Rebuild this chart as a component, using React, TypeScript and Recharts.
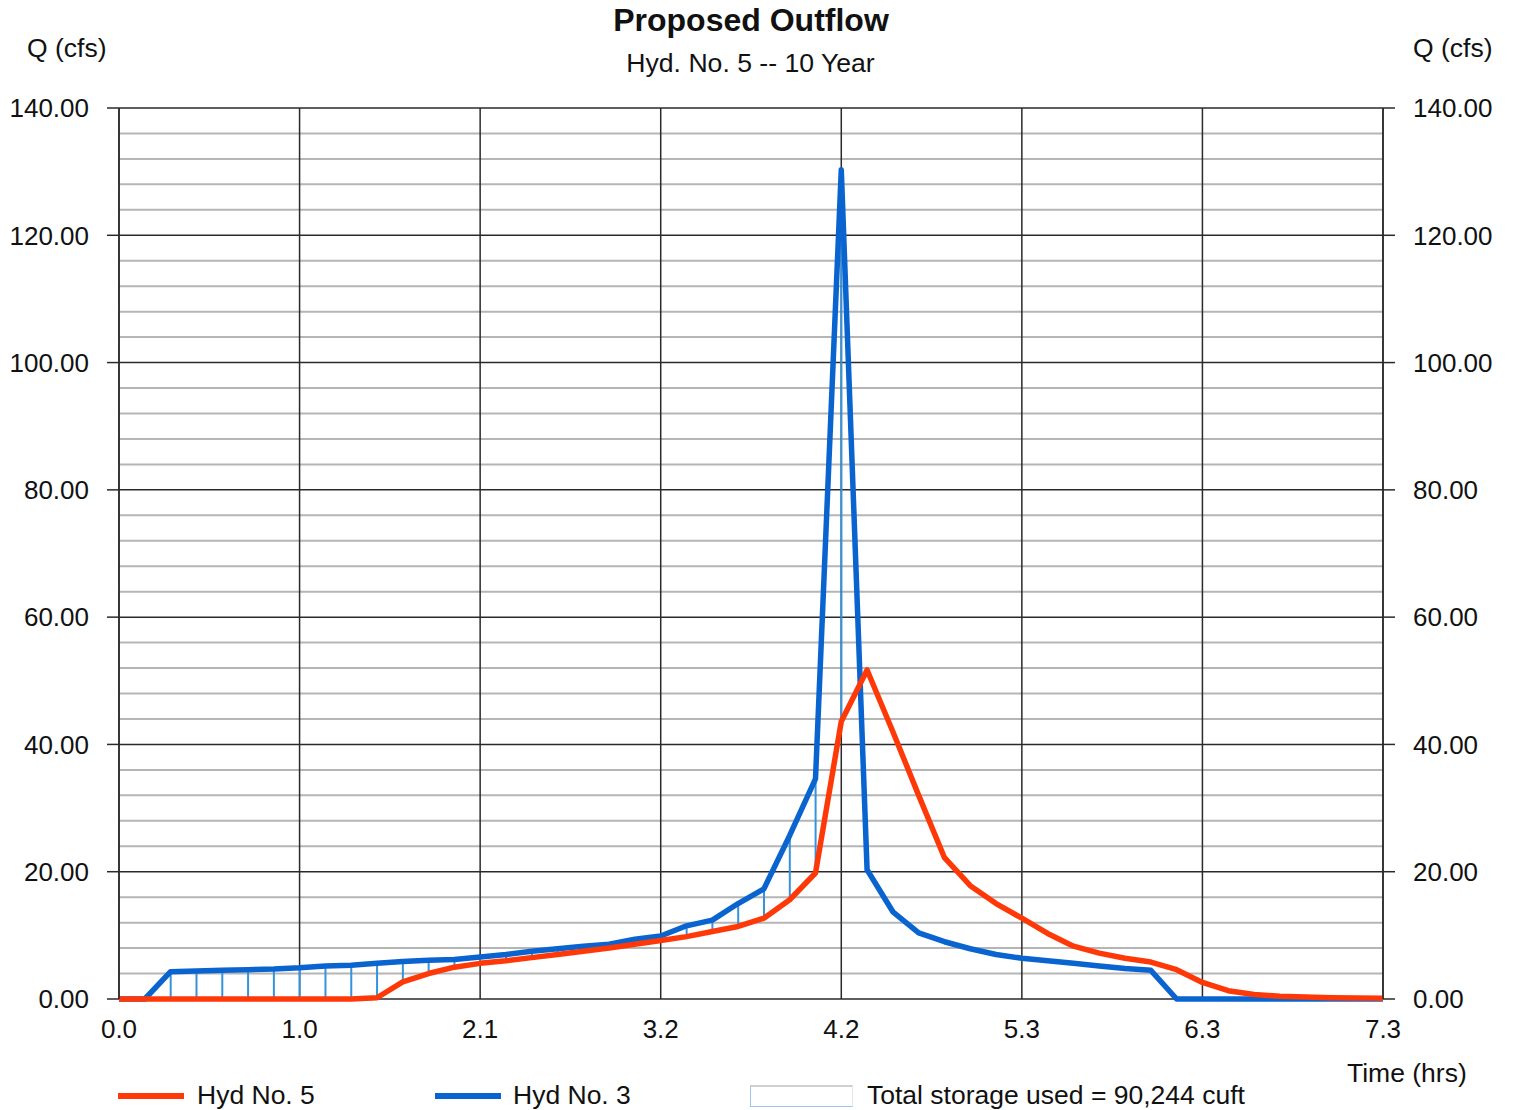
import { ComposedChart, Line, Bar, XAxis, YAxis, CartesianGrid } from "recharts";

const times = [
  0.0, 0.15, 0.3, 0.45, 0.6, 0.75, 0.9, 1.05, 1.2, 1.35,
  1.5, 1.65, 1.8, 1.95, 2.1, 2.25, 2.4, 2.55, 2.7, 2.85,
  3.0, 3.15, 3.3, 3.45, 3.6, 3.75, 3.9, 4.05, 4.2, 4.35,
  4.5, 4.65, 4.8, 4.95, 5.1, 5.25, 5.4, 5.55, 5.7, 5.85,
  6.0, 6.15, 6.3, 6.45, 6.6, 6.75, 6.9, 7.05, 7.2, 7.35,
];

// Hyd No. 3 (inflow)
const hyd3 = [
  0, 0, 4.3, 4.4, 4.5, 4.6, 4.7, 4.9, 5.2, 5.3,
  5.6, 5.9, 6.1, 6.2, 6.6, 7.0, 7.5, 7.9, 8.3, 8.6,
  9.4, 9.9, 11.5, 12.4, 15.0, 17.3, 25.7, 34.6, 130.3, 20.3,
  13.7, 10.4, 9.0, 7.9, 7.0, 6.4, 6.0, 5.6, 5.2, 4.8,
  4.5, 0, 0, 0, 0, 0, 0, 0, 0, 0,
];

// Hyd No. 5 (outflow)
const hyd5 = [
  0, 0, 0, 0, 0, 0, 0, 0, 0, 0,
  0.2, 2.7, 4.0, 5.0, 5.6, 6.0, 6.5, 7.0, 7.5, 8.0,
  8.6, 9.2, 9.8, 10.6, 11.4, 12.7, 15.6, 19.8, 43.6, 51.7,
  42.0, 32.0, 22.2, 17.8, 15.0, 12.7, 10.3, 8.3, 7.2, 6.4,
  5.8, 4.6, 2.6, 1.3, 0.7, 0.45, 0.3, 0.2, 0.15, 0.1,
];

const xTicks = [0, 1.05, 2.1, 3.15, 4.2, 5.25, 6.3, 7.35];
const xTickLabels = ["0.0", "1.0", "2.1", "3.2", "4.2", "5.3", "6.3", "7.3"];
const yTicks = [0, 20, 40, 60, 80, 100, 120, 140];
const yMinor = [4, 8, 12, 16, 24, 28, 32, 36, 44, 48, 52, 56, 64, 68, 72, 76, 84, 88, 92, 96, 104, 108, 112, 116, 124, 128, 132, 136];

const RED = "#FF3808";
const BLUE = "#0A64D0";
const HATCH = "#3592DC";
const FONT = "'Liberation Sans', Arial, sans-serif";

const data = times.map((t, i) => ({
  t,
  hyd3: hyd3[i],
  hyd5: hyd5[i],
  storage: hyd3[i] > hyd5[i] ? [hyd5[i], hyd3[i]] : null,
}));

const tickStyle = { fill: "#111", fontSize: 26, fontFamily: FONT };

export default function App() {
  return (
    <div style={{ position: "absolute", left: 0, top: 0, width: 1513, height: 1110, background: "#fff", fontFamily: FONT, color: "#111" }}>
      <ComposedChart width={1513} height={1110} data={data} margin={{ top: 108, right: 0, bottom: 71, left: 0 }}>
        <CartesianGrid horizontalValues={yMinor} vertical={false} stroke="#b5b5b5" strokeWidth={2} />
        <CartesianGrid horizontal={true} vertical={true} stroke="#2a2a2a" strokeWidth={1.5} />
        <XAxis type="number" dataKey="t" domain={[0, 7.35]} ticks={xTicks}
          tickFormatter={(_v, i) => xTickLabels[i]} tickLine={false} axisLine={false}
          tickSize={0} tickMargin={21} tick={tickStyle} height={40} />
        <YAxis domain={[0, 140]} ticks={yTicks} tickFormatter={(v) => v.toFixed(2)}
          width={119} tickSize={12} tickMargin={18} tick={tickStyle}
          tickLine={{ stroke: "#2a2a2a", strokeWidth: 1.5 }} axisLine={{ stroke: "#2a2a2a", strokeWidth: 1.5 }} />
        <YAxis yAxisId="r" orientation="right" domain={[0, 140]} ticks={yTicks} tickFormatter={(v) => v.toFixed(2)}
          width={130} tickSize={12} tickMargin={18} tick={tickStyle}
          tickLine={{ stroke: "#2a2a2a", strokeWidth: 1.5 }} axisLine={{ stroke: "#2a2a2a", strokeWidth: 1.5 }} />
        <Bar yAxisId="r" dataKey="storage" barSize={2} fill={HATCH} isAnimationActive={false} />
        <Line type="linear" dataKey="hyd3" stroke={BLUE} strokeWidth={5.5} dot={false}
          strokeLinejoin="round" isAnimationActive={false} />
        <Line type="linear" dataKey="hyd5" stroke={RED} strokeWidth={5.5} dot={false}
          strokeLinejoin="round" isAnimationActive={false} />
      </ComposedChart>

      <div style={{ position: "absolute", left: 0, width: 1502, top: 2, textAlign: "center", fontSize: 32, fontWeight: "bold" }}>
        Proposed Outflow
      </div>
      <div style={{ position: "absolute", left: 0, width: 1501, top: 48, textAlign: "center", fontSize: 26.6 }}>
        Hyd. No. 5 -- 10 Year
      </div>
      <div style={{ position: "absolute", left: 27, top: 33, fontSize: 26.5 }}>Q (cfs)</div>
      <div style={{ position: "absolute", left: 1413, top: 33, fontSize: 26.5 }}>Q (cfs)</div>
      <div style={{ position: "absolute", left: 1347, top: 1058, fontSize: 26.5 }}>Time (hrs)</div>

      <div style={{ position: "absolute", left: 118, top: 1093, width: 66, height: 6, background: RED }} />
      <div style={{ position: "absolute", left: 197, top: 1080, fontSize: 26.5 }}>Hyd No. 5</div>
      <div style={{ position: "absolute", left: 435, top: 1093, width: 66, height: 6, background: BLUE }} />
      <div style={{ position: "absolute", left: 513, top: 1080, fontSize: 26.5 }}>Hyd No. 3</div>
      <div style={{ position: "absolute", left: 750, top: 1085, width: 101, height: 19, borderTop: "2px solid #d0d0d0", borderLeft: "1px solid #9cc8ee", borderBottom: "1px solid #9cc8ee", borderRight: "1px solid #e6e6e6" }} />
      <div style={{ position: "absolute", left: 867, top: 1080, fontSize: 26.5 }}>Total storage used = 90,244 cuft</div>
    </div>
  );
}
